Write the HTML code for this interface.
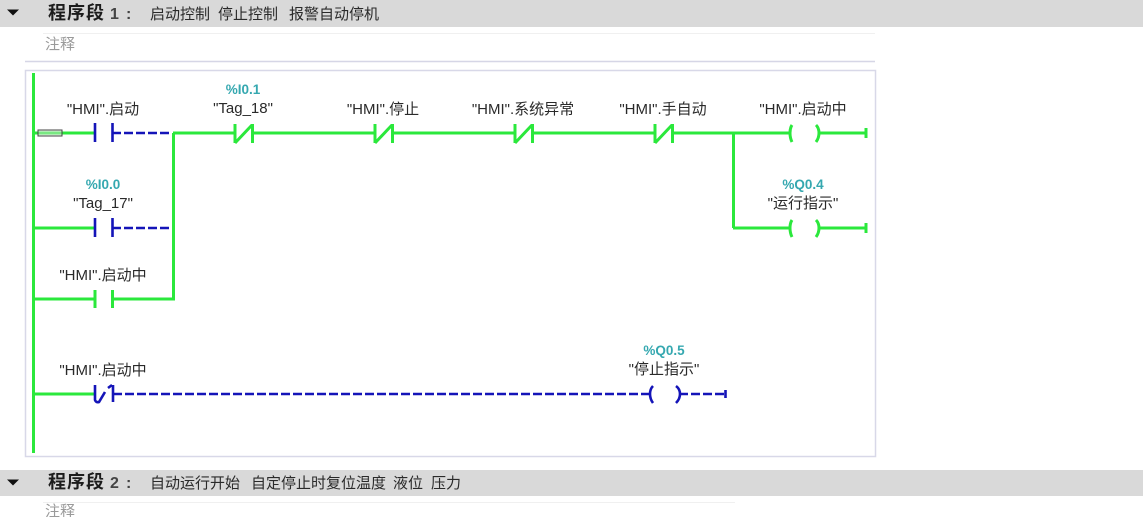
<!DOCTYPE html>
<html><head><meta charset="utf-8"><style>
html,body{margin:0;padding:0;background:#fff}
svg{display:block}
text{font-family:"Liberation Sans","Noto Sans CJK SC",sans-serif;fill:#2a2a2a;font-size:15px}
.l{text-anchor:middle;font-size:15px}
.a{text-anchor:middle;font-size:13.5px;font-weight:bold;fill:#35a8b0}
.h{font-family:"Noto Sans CJK SC","Liberation Sans",sans-serif;font-size:18px;font-weight:bold;letter-spacing:1px;fill:#1c1c1c}
.n{font-size:16px;font-weight:bold;fill:#444}
.g{stroke:#2be83c;stroke-width:3;fill:none}
.b{stroke:#1414b8;stroke-width:2.6;fill:none}
.d{stroke:#1414b8;stroke-width:2.4;fill:none;stroke-dasharray:9 3}
</style></head><body>
<svg width="1143" height="517" viewBox="0 0 1143 517" xmlns="http://www.w3.org/2000/svg">
<rect x="0" y="0" width="1143" height="27" fill="#d9d9d9"/>
<path d="M7 9.500H19L13 15.500Z" fill="#111"/>
<text x="48" y="19" class="h">程序段</text><text x="110" y="19" class="n">1</text><text x="126" y="19" class="n">:</text>
<text x="150" y="19">启动控制</text><text x="218" y="19">停止控制</text><text x="289" y="19">报警自动停机</text>
<path d="M43 33.500H875" stroke="#f0f0f0" fill="none"/>
<text x="45" y="49" style="fill:#9a9a9a">注释</text>
<path d="M25 61.500H875" stroke="#d6d6e6" stroke-width="1.500" fill="none"/>
<rect x="25.500" y="70.500" width="850" height="386" fill="#fff" stroke="#d8d8e8" stroke-width="1.500"/>

<!-- rail -->
<path class="g" d="M33.500 73V453"/>

<!-- rung 1 -->
<path class="g" d="M35 133H94"/>
<path class="b" d="M95 123V142M112.500 123V142"/>
<path class="d" d="M112 133H172"/>
<path class="g" d="M173 133H234M253 133H374M393 133H514M533 133H654M673 133H790M819 133H866M173.500 133V299M733.500 133V228"/>
<path class="g" d="M235 124V143M235 143L252 125M252.500 124V143M375 124V143M375 143L392 125M392.500 124V143M515 124V143M515 143L532 125M532.500 124V143M655 124V143M655 143L672 125M672.500 124V143"/>
<path class="g" d="M792 125Q790 128 790 133Q790 138 792 142M816 125Q819 128 819 133Q819 138 816 142M866 128V138"/>
<rect x="38" y="130" width="24" height="6" fill="#c8e8c8" fill-opacity=".5" stroke="#444" stroke-width="1"/>

<text x="103" y="114" class="l">"HMI".启动</text>
<text x="243" y="94" class="a">%I0.1</text>
<text x="243" y="113" class="l">"Tag_18"</text>
<text x="383" y="114" class="l">"HMI".停止</text>
<text x="523" y="114" class="l">"HMI".系统异常</text>
<text x="663" y="114" class="l">"HMI".手自动</text>
<text x="803" y="114" class="l">"HMI".启动中</text>

<!-- rung 2 -->
<path class="g" d="M35 228H94"/>
<path class="b" d="M95 218V237M112.500 218V237"/>
<path class="d" d="M112 228H172"/>
<text x="103" y="189" class="a">%I0.0</text>
<text x="103" y="208" class="l">"Tag_17"</text>

<!-- rung 3 -->
<path class="g" d="M35 299H94M95 290V308M112.500 290V308M113 299H175"/>
<text x="103" y="280" class="l">"HMI".启动中</text>

<!-- coil 2 -->
<path class="g" d="M733 228H790M819 228H866"/>
<path class="g" d="M792 220Q790 223 790 228Q790 233 792 237M816 220Q819 223 819 228Q819 233 816 237M866 223V233"/>
<text x="803" y="189" class="a">%Q0.4</text>
<text x="803" y="208" class="l">"运行指示"</text>

<!-- rung 4 -->
<path class="g" d="M35 394H94"/>
<path class="b" d="M95 385V400Q96 403 99 402L105 392M108 388L112 385M113 385V402"/>
<path class="d" d="M113 394H650M679 394H725"/>
<path class="b" d="M653 386Q650 389 650 394Q650 399 653 403M676 386Q680 389 680 394Q680 399 676 403M725.500 390V398"/>
<text x="103" y="375" class="l">"HMI".启动中</text>
<text x="664" y="355" class="a">%Q0.5</text>
<text x="664" y="374" class="l">"停止指示"</text>

<!-- network 2 -->
<rect x="0" y="470" width="1143" height="26" fill="#d9d9d9"/>
<path d="M7 479.500H19L13 485.500Z" fill="#111"/>
<text x="48" y="488" class="h">程序段</text><text x="110" y="488" class="n">2</text><text x="126" y="488" class="n">:</text>
<text x="150" y="488">自动运行开始</text><text x="251" y="488">自定停止时复位温度</text><text x="393" y="488">液位</text><text x="431" y="488">压力</text>
<path d="M43 502.500H735" stroke="#f0f0f0" fill="none"/>
<text x="45" y="516" style="fill:#9a9a9a">注释</text>
</svg>
</body></html>
